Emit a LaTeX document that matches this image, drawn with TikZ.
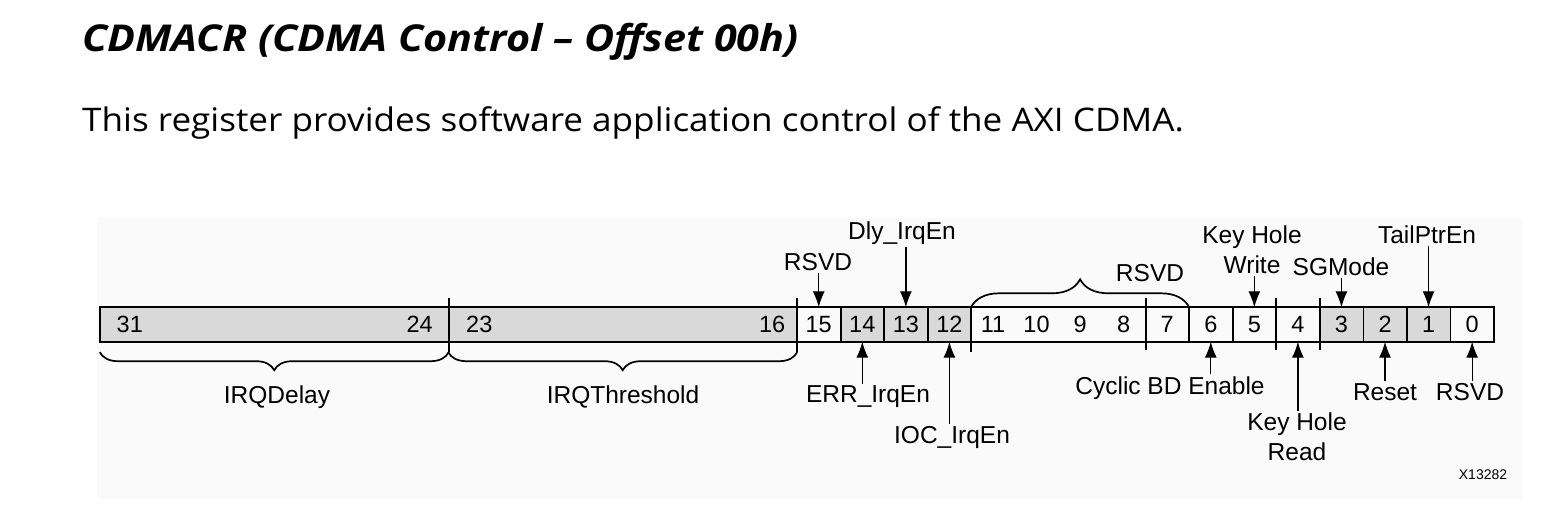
\documentclass[tikz,border=0pt]{standalone}
\usepackage{fontspec}
\usetikzlibrary{positioning, arrows.meta, decorations.pathreplacing, calc}
\newfontfamily\headfont[FakeStretch=1.117]{Open Sans}
\newfontfamily\introfont[FakeStretch=1.08]{Open Sans}
\newfontfamily\regfont{Liberation Sans}
\definecolor{regfill}{RGB}{217,217,217}
\definecolor{panelfill}{RGB}{250,250,250}
\newcommand{\bw}{43.56}
\tikzset{
	cell/.style={minimum width=\bw pt, minimum height=34pt, inner sep=0pt, draw=none},
	bitnum/.style={inner sep=0pt, font=\regfont\fontsize{23.5}{27}\selectfont},
	regline/.style={draw=black, line width=1.7pt},
	fieldtick/.style={draw=black, line width=2pt},
	sig/.style={inner sep=2pt, align=center, font=\regfont\fontsize{24.5}{30}\selectfont},
	sigarrow/.style={draw=black, line width=1.3pt, -{Latex[length=16pt, width=12pt]}},
	fieldbrace/.style={draw=black, line width=1.7pt, decorate, decoration={brace, amplitude=#1}},
}

\begin{document}
\begin{tikzpicture}[x=1pt, y=-1pt]
	\useasboundingbox (0,0) rectangle (1555,508);
	\fill[white] (0,0) rectangle (1555,508);
	\fill[panelfill] (97,218) rectangle (1522,499);

	% heading
	\node[anchor=base west, inner sep=0pt, font=\headfont\bfseries\itshape\fontsize{37}{40}\selectfont] (title) at (82,51.7) {CDMACR (CDMA Control – Offset 00h)};
	\node[anchor=base west, inner sep=0pt, font=\introfont\fontsize{32.5}{36}\selectfont] (intro) at (82,131.7) {This register provides software application control of the AXI CDMA.};

	% register cells
	\foreach \b in {0,...,31}
		\node[cell] (b\b) at ({100+(31.5-\b)*\bw}, 324.5) {};
	\fill[regfill] (b31.north west) rectangle (b16.south east);
	\fill[regfill] (b14.north west) rectangle (b12.south east);
	\fill[regfill] (b3.north west) rectangle (b1.south east);
	\foreach \b in {0,...,15}
		\node[bitnum] (n\b) at (b\b) {\b};
	\node[bitnum, xshift=8pt] (n31) at (b31) {31};
	\node[bitnum, xshift=-7pt] (n24) at (b24) {24};
	\node[bitnum, xshift=9pt] (n23) at (b23) {23};
	\node[bitnum, xshift=-3pt] (n16) at (b16) {16};

	\draw[regline] (b31.north west) rectangle (b0.south east);
	\foreach \b in {15,14,13,7,6,3,2,1}
		\draw[regline] (b\b.north east) -- (b\b.south east);
	\foreach \b in {8,5,4}
		\draw[fieldtick] ($(b\b.north east)+(0,-9.5)$) -- ($(b\b.south east)+(0,8.5)$);
	\foreach \b in {24,16}
		\draw[fieldtick] ($(b\b.north east)+(0,-9)$) -- ($(b\b.south east)+(0,10.5)$);
	\draw[fieldtick] (b12.north east) -- ($(b12.south east)+(0,10.5)$);

	% braces
	\draw[fieldbrace=18pt, decoration={mirror}] ($(b31.south west)+(0,10.5)$) -- ($(b24.south east)+(0,10.5)$);
	\draw[fieldbrace=18pt, decoration={mirror}] ($(b23.south west)+(0,10.5)$) -- ($(b16.south east)+(0,10.5)$);
	\draw[fieldbrace=28pt] (b11.north west) -- (b7.north east);
	\node[sig] (lDelay) at (277,397) {IRQDelay};
	\node[sig] (lThresh) at (623,397) {IRQThreshold};
	\node[sig] (lRsvdMid) at (1150,273) {RSVD};

	% bits pointed from above
	\node[sig] (lRsvdHi) at (818,262) {RSVD};
	\node[sig] (lDly) at (902,233) {Dly\_IrqEn};
	\node[sig] (lKhw) at (1252,250) {Key Hole\\Write};
	\node[sig] (lSg) at (1341,267) {SGMode};
	\node[sig] (lTail) at (1427,235) {TailPtrEn};
	\draw[sigarrow] (lRsvdHi.south -| b15) -- (b15.north);
	\draw[sigarrow] (lDly.south -| b13) -- (b13.north);
	\draw[sigarrow] (lKhw.south -| b5) -- (b5.north);
	\draw[sigarrow] (lSg.south -| b3) -- (b3.north);
	\draw[sigarrow] (lTail.south -| b1) -- (b1.north);

	% bits pointed from below
	\node[sig] (lErr) at (868,397) {ERR\_IrqEn};
	\node[sig] (lIoc) at (952,437) {IOC\_IrqEn};
	\node[sig] (lCyc) at (1170,388) {Cyclic BD Enable};
	\node[sig] (lKhr) at (1297,437) {Key Hole\\Read};
	\node[sig] (lReset) at (1385,392) {Reset};
	\node[sig] (lRsvdLo) at (1470,392) {RSVD};
	\draw[sigarrow] (lErr.north -| b14) -- (b14.south);
	\draw[sigarrow] (lIoc.north -| b12) -- (b12.south);
	\draw[sigarrow] (lCyc.north -| b6) -- (b6.south);
	\draw[sigarrow] (lKhr.north -| b4) -- (b4.south);
	\draw[sigarrow] (lReset.north -| b2) -- (b2.south);
	\draw[sigarrow] (lRsvdLo.north -| b0) -- (b0.south);

	\node[inner sep=0pt, font=\regfont\fontsize{14}{16}\selectfont] (figid) at (1483,475) {X13282};
\end{tikzpicture}
\end{document}
